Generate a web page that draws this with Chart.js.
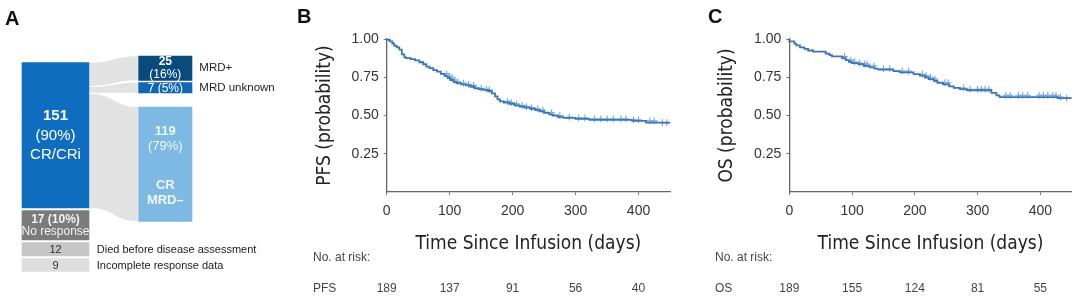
<!DOCTYPE html>
<html>
<head>
<meta charset="utf-8">
<script src="https://cdn.jsdelivr.net/npm/chart.js@4.4.1/dist/chart.umd.min.js"></script>
<style>
  html, body { margin: 0; padding: 0; background: #fff; }
  #wrap { position: relative; width: 1080px; height: 299px; overflow: hidden; }
  #wrap canvas { position: absolute; top: 0; }
  .tag { position: absolute; font: bold 20px "Liberation Sans", Arial, sans-serif; color: #111; line-height: 20px; }
</style>
</head>
<body>
<div id="wrap">
  <canvas id="flowChart" width="290" height="299" style="left:0px"></canvas>
  <canvas id="pfsChart" width="390" height="299" style="left:290px"></canvas>
  <canvas id="osChart" width="400" height="299" style="left:680px"></canvas>
  <div class="tag" style="left:5px;top:8px">A</div>
  <div class="tag" style="left:297px;top:6px">B</div>
  <div class="tag" style="left:708px;top:6px">C</div>
</div>
<script>
// Panel A data
const responseLabels = ['CR/CRi', 'No response', 'Died before disease assessment', 'Incomplete response data'];
const responseCounts = [151, 17, 12, 9];
const responsePct = [90, 10, null, null];
const mrdLabels = ['MRD+', 'MRD unknown', 'CR MRD–'];
const mrdCounts = [25, 7, 119];
const mrdPct = [16, 5, 79];

// Panel B data (Kaplan-Meier)
const pfsTimes = [0, 5, 9, 12, 16, 20, 24, 28, 31, 38, 45, 52, 58, 63, 68, 74, 80, 86, 92, 97, 101, 106, 111, 118, 126, 133, 140, 146, 153, 161, 167, 172, 176, 180, 186, 195, 203, 211, 219, 228, 236, 243, 250, 258, 264, 272, 281, 300, 322, 390, 412, 428];
const pfsSurv = [1.0, 0.995, 0.985, 0.97, 0.955, 0.945, 0.93, 0.9, 0.88, 0.875, 0.868, 0.86, 0.848, 0.835, 0.82, 0.81, 0.797, 0.787, 0.772, 0.758, 0.745, 0.732, 0.72, 0.712, 0.704, 0.697, 0.688, 0.678, 0.672, 0.667, 0.66, 0.645, 0.625, 0.606, 0.592, 0.584, 0.576, 0.566, 0.558, 0.552, 0.544, 0.535, 0.527, 0.518, 0.508, 0.5, 0.49, 0.485, 0.478, 0.472, 0.465, 0.453];
const pfsCensored = [95, 100, 104, 108, 113, 122, 130, 138, 150, 158, 163, 192, 198, 206, 215, 222, 230, 240, 248, 262, 275, 290, 305, 315, 330, 340, 350, 360, 372, 380, 392, 400, 418, 425, 438, 445];
const pfsAtRisk = [189, 137, 91, 56, 40];

// Panel C data
const osTimes = [0, 8, 11, 17, 24, 30, 38, 58, 64, 68, 84, 90, 95, 100, 110, 118, 128, 136, 142, 166, 176, 198, 208, 216, 222, 230, 236, 245, 255, 262, 272, 283, 322, 330, 335, 428, 438];
const osSurv = [1.0, 0.985, 0.97, 0.958, 0.945, 0.935, 0.925, 0.918, 0.905, 0.895, 0.886, 0.875, 0.862, 0.85, 0.842, 0.836, 0.825, 0.814, 0.806, 0.8, 0.79, 0.782, 0.77, 0.76, 0.75, 0.738, 0.726, 0.714, 0.703, 0.69, 0.68, 0.672, 0.665, 0.648, 0.632, 0.62, 0.614];
const osCensored = [88, 98, 104, 112, 120, 124, 135, 150, 160, 180, 190, 212, 218, 225, 232, 248, 253, 278, 288, 300, 306, 312, 318, 345, 352, 365, 372, 380, 398, 405, 412, 420, 425, 432, 442];
const osAtRisk = [189, 155, 124, 81, 55];

// shared ticks
const riskTimes = [0, 100, 200, 300, 400];
const survTicks = [0.25, 0.5, 0.75, 1.0];
const FOLLOW_UP_END = 450;

const SANS = '"Liberation Sans", Arial, sans-serif';
const NARROW = '"Liberation Sans Narrow", "Arial Narrow", "DejaVu Sans Condensed", sans-serif';

// ---------- Panel A: response / MRD flow ----------
const PX_PER_PATIENT = 0.967;
const leftMinH = [0, 30, 14, 13.4];
const rightMinH = [25, 11, 0];

function stack(counts, top, minH, gaps) {
    const out = [];
    let y = top;
    counts.forEach((c, i) => {
        const h = Math.max(c * PX_PER_PATIENT, minH[i]);
        out.push([y, y + h]);
        y += h + (gaps[i] || 0);
    });
    return out;
}

const leftRanges = stack(responseCounts, 62.3, leftMinH, [2, 2, 2]);
const rightRanges = stack(mrdCounts, 55.7, rightMinH, [1.5, 13.5]);

const leftColors = ['#0f6dbf', '#7b7b7b', '#c6c6c6', '#dedede'];
const rightColors = ['#0b4a7d', '#0f67b6', '#7db9e2'];

// text inside boxes: [text, bold, offset from box centre]
const leftText = [
    [[`${responseCounts[0]}`, true, -19], [`(${responsePct[0]}%)`, false, 1], ['CR/CRi', false, 20]],
    [[`${responseCounts[1]} (${responsePct[1]}%)`, true, -6], ['No response', false, 6]],
    [[`${responseCounts[2]}`, false, 1]],
    [[`${responseCounts[3]}`, false, 1]]
];
const leftTextSize = [15, 12, 11, 11];
const leftTextColor = ['#ffffff', '#f2f2f2', '#333333', '#333333'];
const rightText = [
    [[`${mrdCounts[0]}`, true, -6.5], [`(${mrdPct[0]}%)`, false, 6.5]],
    [[`${mrdCounts[1]} (${mrdPct[1]}%)`, false, 0.5]],
    [[`${mrdCounts[2]}`, true, -32.5], [`(${mrdPct[2]}%)`, false, -17.5], ['CR', true, 21], ['MRD–', true, 36]]
];
const rightTextSize = [12, 12, 13];
const rightTextColor = ['#ffffff', '#ffffff', '#eef6fc'];

const flowPlugin = {
    id: 'flows',
    beforeDatasetsDraw(chart) {
        const ctx = chart.ctx;
        const y = chart.scales.y;
        const src = chart.getDatasetMeta(0).data[0];
        const x1 = src.x + src.width / 2;
        const [t0, t1] = leftRanges[0];
        const per = (t1 - t0) / responseCounts[0];
        let cum = 0;
        ctx.save();
        mrdCounts.forEach((c, i) => {
            const dst = chart.getDatasetMeta(responseLabels.length + i).data[1];
            const x2 = dst.x - dst.width / 2;
            const xm = (x1 + x2) / 2;
            const sTop = y.getPixelForValue(t0 + cum * per);
            const sBot = y.getPixelForValue(t0 + (cum + c) * per);
            const dTop = y.getPixelForValue(rightRanges[i][0]);
            const dBot = y.getPixelForValue(rightRanges[i][1]);
            cum += c;
            ctx.beginPath();
            ctx.moveTo(x1, sTop);
            ctx.bezierCurveTo(xm, sTop, xm, dTop, x2, dTop);
            ctx.lineTo(x2, dBot);
            ctx.bezierCurveTo(xm, dBot, xm, sBot, x1, sBot);
            ctx.closePath();
            ctx.fillStyle = '#e2e2e2';
            ctx.fill();
            ctx.strokeStyle = '#ffffff';
            ctx.lineWidth = 1;
            ctx.stroke();
        });
        ctx.restore();
    },
    afterDatasetsDraw(chart) {
        const ctx = chart.ctx;
        const y = chart.scales.y;
        ctx.save();
        ctx.textAlign = 'center';
        ctx.textBaseline = 'middle';
        const drawBox = (el, range, lines, size, color) => {
            const cy = (y.getPixelForValue(range[0]) + y.getPixelForValue(range[1])) / 2;
            lines.forEach(([txt, bold, dy]) => {
                ctx.font = `${bold ? 'bold ' : ''}${size}px ${SANS}`;
                ctx.fillStyle = color;
                ctx.fillText(txt, el.x, cy + dy);
            });
            return cy;
        };
        responseLabels.forEach((lab, i) => {
            const el = chart.getDatasetMeta(i).data[0];
            const cy = drawBox(el, leftRanges[i], leftText[i], leftTextSize[i], leftTextColor[i]);
            if (i >= 2) {
                ctx.textAlign = 'left';
                ctx.font = `11px ${SANS}`;
                ctx.fillStyle = '#222';
                ctx.fillText(lab, el.x + el.width / 2 + 7.5, cy + 0.5);
                ctx.textAlign = 'center';
            }
        });
        mrdLabels.forEach((lab, i) => {
            const el = chart.getDatasetMeta(responseLabels.length + i).data[1];
            const cy = drawBox(el, rightRanges[i], rightText[i], rightTextSize[i], rightTextColor[i]);
            if (i < 2) {
                ctx.textAlign = 'left';
                ctx.font = `11.5px ${SANS}`;
                ctx.fillStyle = '#222';
                ctx.fillText(lab, el.x + el.width / 2 + 7, cy);
                ctx.textAlign = 'center';
            }
        });
        ctx.restore();
    }
};

new Chart(document.getElementById('flowChart'), {
    type: 'bar',
    data: {
        labels: ['Response', 'MRD status'],
        datasets: [
            ...responseLabels.map((lab, i) => ({
                label: lab,
                data: [leftRanges[i], null],
                backgroundColor: leftColors[i],
                grouped: false,
                barPercentage: 0.616,
                categoryPercentage: 1
            })),
            ...mrdLabels.map((lab, i) => ({
                label: lab,
                data: [null, rightRanges[i]],
                backgroundColor: rightColors[i],
                grouped: false,
                barPercentage: 0.492,
                categoryPercentage: 1
            }))
        ]
    },
    options: {
        responsive: false,
        animation: false,
        layout: { padding: { left: 0.6, right: 69.8, top: 0, bottom: 0 } },
        plugins: { legend: { display: false }, tooltip: { enabled: false } },
        scales: {
            x: { display: false },
            y: { display: false, min: 0, max: 299, reverse: true }
        }
    },
    plugins: [flowPlugin]
});

// ---------- Panels B & C: Kaplan-Meier ----------
function survAt(times, surv, t) {
    let s = surv[0];
    for (let i = 0; i < times.length; i++) {
        if (times[i] <= t) s = surv[i];
    }
    return s;
}

function kmChart(id, cfg) {
    const line = cfg.times.map((t, i) => ({ x: t, y: cfg.surv[i] }));
    line.push({ x: FOLLOW_UP_END, y: cfg.surv[cfg.surv.length - 1] });
    const marks = cfg.censored.map(t => ({ x: t, y: survAt(cfg.times, cfg.surv, t) }));

    const riskPlugin = {
        id: 'riskTable',
        afterDraw(chart) {
            const ctx = chart.ctx;
            const x = chart.scales.x;
            ctx.save();
            ctx.font = `12px ${SANS}`;
            ctx.fillStyle = '#444';
            ctx.textBaseline = 'middle';
            ctx.textAlign = 'left';
            ctx.fillText('No. at risk:', cfg.tableX, 258);
            ctx.fillText(cfg.rowLabel, cfg.tableX, 289);
            ctx.textAlign = 'center';
            cfg.atRisk.forEach((n, i) => {
                ctx.fillText(String(n), x.getPixelForValue(riskTimes[i]), 289);
            });
            ctx.restore();
        }
    };

    new Chart(document.getElementById(id), {
        type: 'line',
        data: {
            datasets: [
                {
                    data: line,
                    stepped: 'after',
                    borderColor: '#3a76b7',
                    borderWidth: 1.8,
                    pointRadius: 0,
                    fill: false,
                    clip: 4
                },
                {
                    data: marks,
                    showLine: false,
                    pointStyle: 'cross',
                    pointRadius: 3.4,
                    borderColor: '#6ea6da',
                    borderWidth: 1.1,
                    clip: 4
                }
            ]
        },
        options: {
            responsive: false,
            animation: false,
            layout: { padding: { left: 0, right: cfg.rightPad, top: 39, bottom: 44 } },
            plugins: { legend: { display: false }, tooltip: { enabled: false } },
            scales: {
                x: {
                    type: 'linear',
                    min: 0,
                    max: FOLLOW_UP_END,
                    afterBuildTicks: s => { s.ticks = riskTimes.map(v => ({ value: v })); },
                    afterFit: s => { s.height = 63; },
                    grid: { drawOnChartArea: false, drawTicks: true, tickLength: 3, color: '#777' },
                    border: { color: '#666', width: 1.3 },
                    ticks: { color: '#333', padding: 8, font: { family: SANS, size: 14 } },
                    title: {
                        display: true,
                        text: 'Time Since Infusion (days)',
                        color: '#222',
                        padding: { top: 0, bottom: 0 },
                        font: { family: NARROW, size: 19 }
                    }
                },
                y: {
                    min: 0,
                    max: 1,
                    afterBuildTicks: s => { s.ticks = survTicks.map(v => ({ value: v })); },
                    afterFit: s => { s.width = cfg.axisX; },
                    grid: { drawOnChartArea: false, drawTicks: true, tickLength: 3, color: '#777' },
                    border: { color: '#666', width: 1.3 },
                    ticks: {
                        color: '#333',
                        padding: 5,
                        font: { family: SANS, size: 14 },
                        callback: v => v.toFixed(2)
                    },
                    title: {
                        display: true,
                        text: cfg.yTitle,
                        color: '#222',
                        padding: { top: cfg.titlePad, bottom: 0 },
                        font: { family: NARROW, size: 19 }
                    }
                }
            }
        },
        plugins: [riskPlugin]
    });
}

kmChart('pfsChart', {
    times: pfsTimes, surv: pfsSurv, censored: pfsCensored, atRisk: pfsAtRisk,
    yTitle: 'PFS (probability)', rowLabel: 'PFS',
    axisX: 96.7, rightPad: 10, titlePad: 24, tableX: 23
});

kmChart('osChart', {
    times: osTimes, surv: osSurv, censored: osCensored, atRisk: osAtRisk,
    yTitle: 'OS (probability)', rowLabel: 'OS',
    axisX: 109.3, rightPad: 8.3, titlePad: 35.5, tableX: 35
});
</script>
</body>
</html>
